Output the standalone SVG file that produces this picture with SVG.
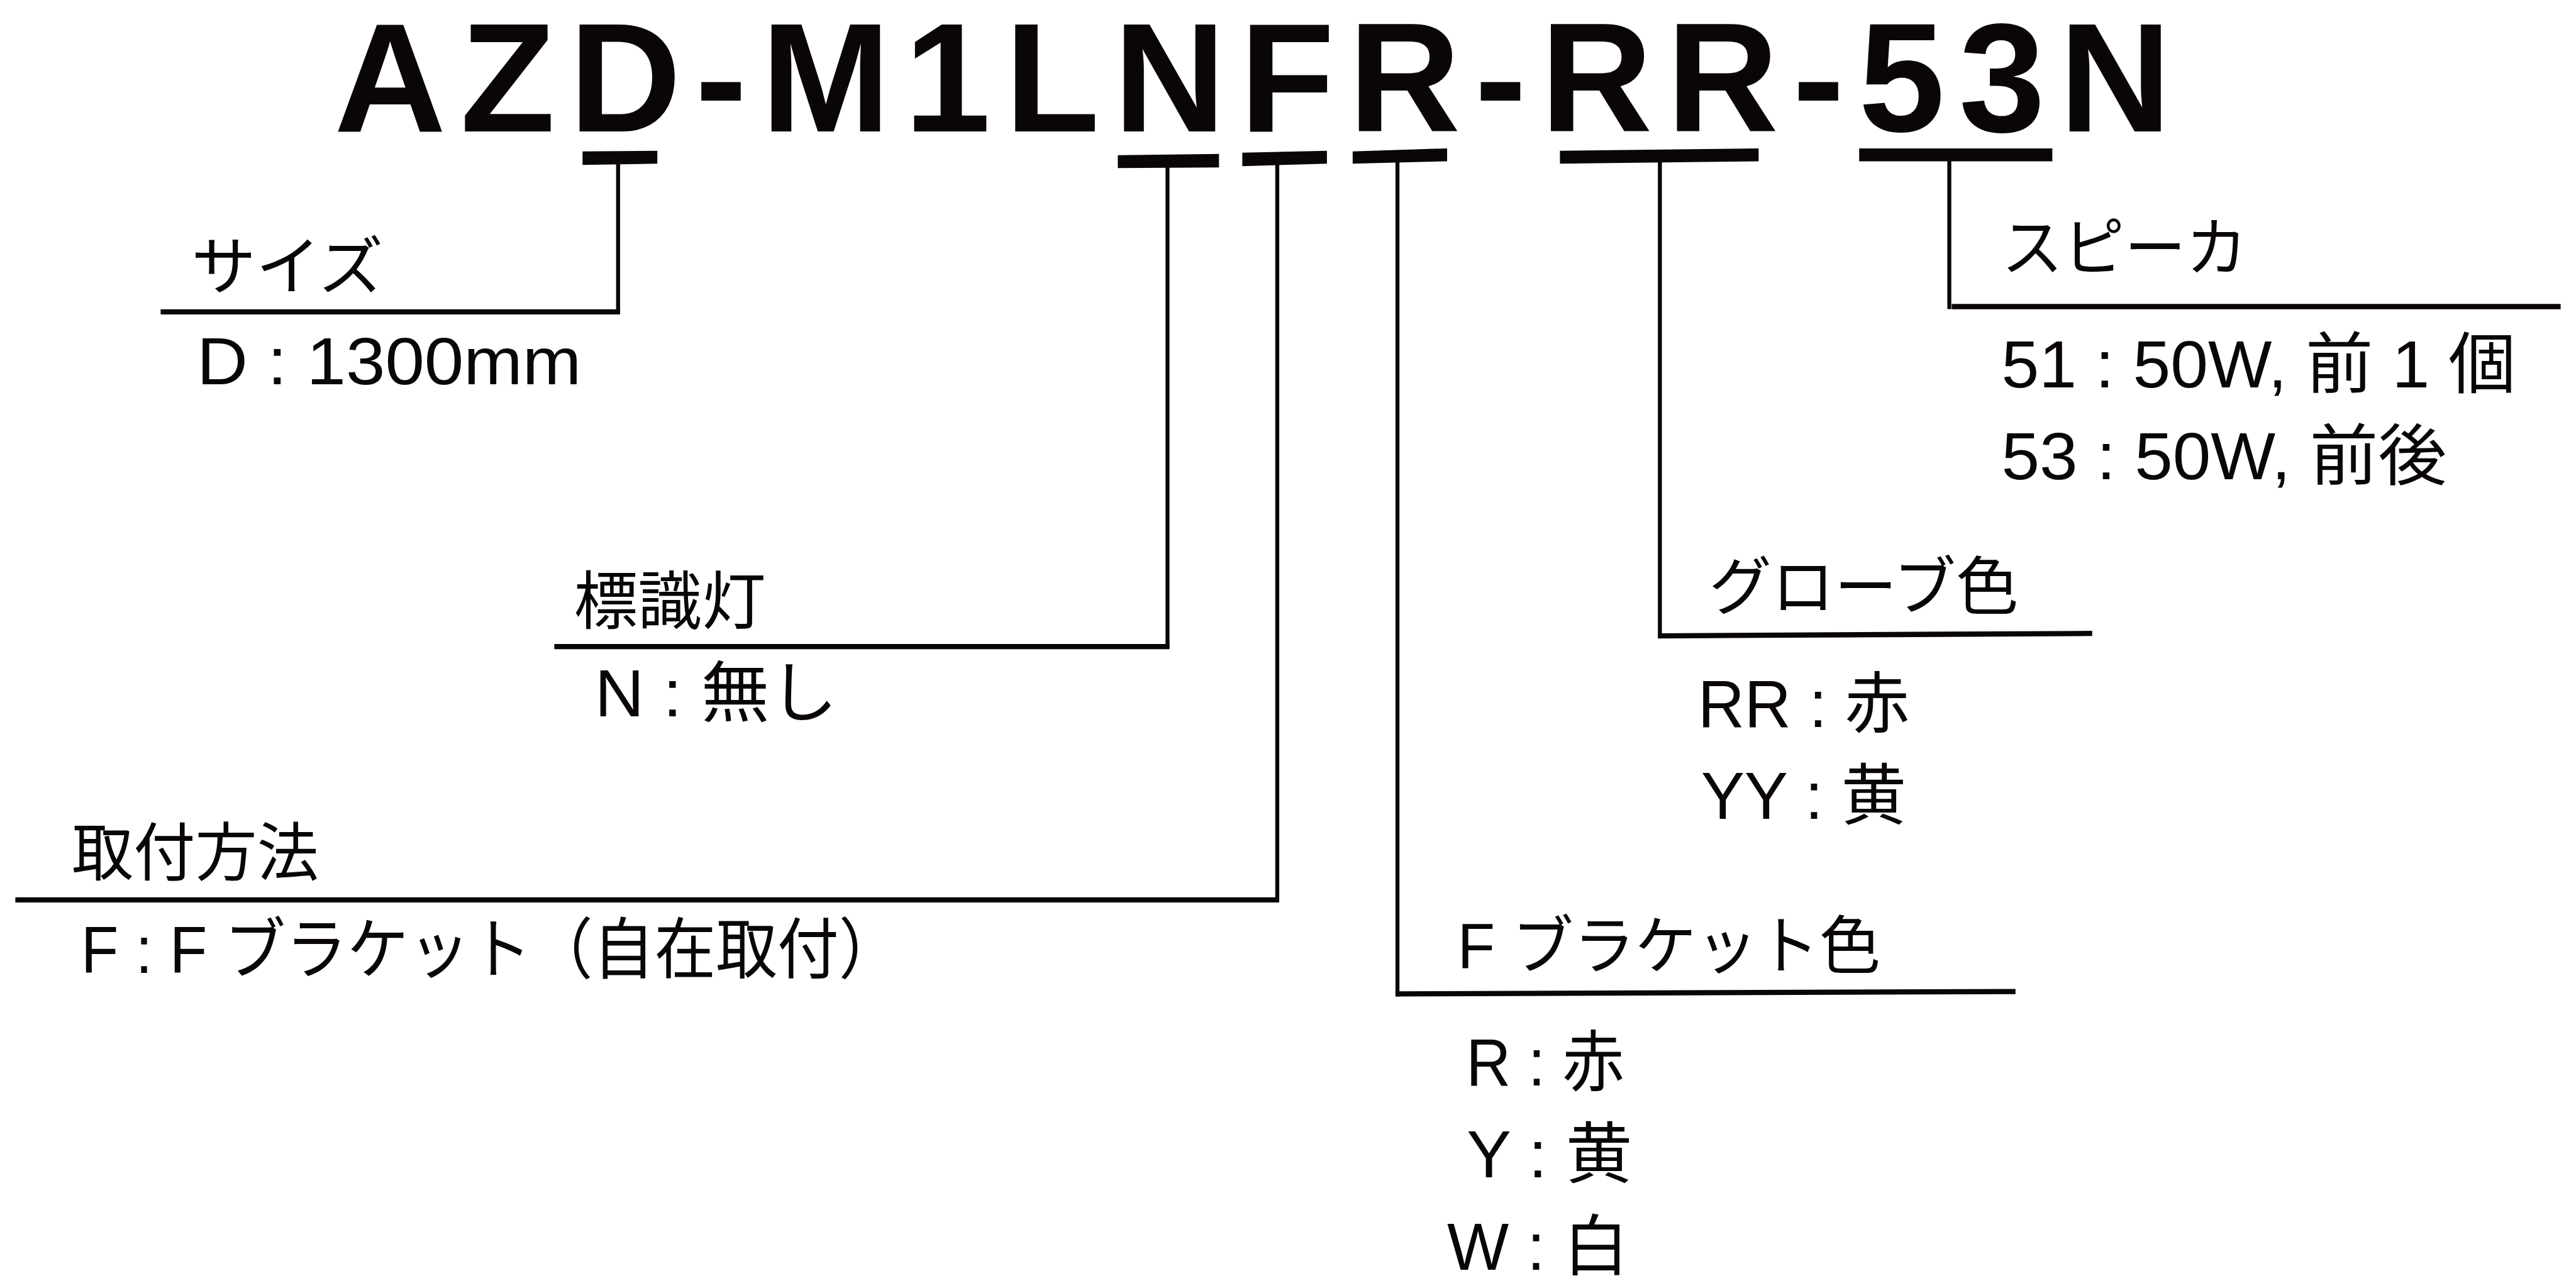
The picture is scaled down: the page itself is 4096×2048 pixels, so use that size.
<svg xmlns="http://www.w3.org/2000/svg" width="4096" height="2048" viewBox="0 0 4096 2048">
<style>
.title{font-family:"Liberation Sans",Arial,sans-serif;font-weight:bold;font-size:253px;letter-spacing:23px;fill:#0a0606}
.hdr{font-family:"Liberation Sans","Noto Sans CJK JP",sans-serif;font-size:104px;fill:#0a0606}
.body{font-family:"Liberation Sans","Noto Sans CJK JP",sans-serif;font-size:108px;fill:#0a0606}
.bar{fill:#0a0606}
.lv{stroke:#0a0606;stroke-width:6.5;fill:none}
.lh{stroke:#0a0606;stroke-width:8.5;fill:none}
</style>
<rect width="4096" height="2048" fill="#ffffff"/>
<g transform="scale(0.975)">
  <g id="node-title">
    <text class="title" x="545" y="214">AZD-M1LNFR-RR-53N</text>
  </g>
  <g id="connectors">
    <polygon class="bar" points="950,247 1072,246 1072,267 950,269"/>
    <polygon class="bar" points="1823,253 1988,251 1988,273 1823,274"/>
    <polygon class="bar" points="2026,249 2164,246 2164,267 2026,271"/>
    <polygon class="bar" points="2206,247 2360,242 2360,263 2206,267"/>
    <polygon class="bar" points="2544,246 2868,242 2868,263 2544,267"/>
    <polygon class="bar" points="3032,242 3347,242 3347,263 3032,263"/>
    <line class="lv" x1="1008" y1="266" x2="1008" y2="512"/>
    <line class="lh" x1="262" y1="508.5" x2="1011" y2="508.5"/>
    <line class="lv" x1="1904" y1="272" x2="1904" y2="1058"/>
    <line class="lh" x1="904" y1="1054.5" x2="1907" y2="1054.5"/>
    <line class="lv" x1="2083" y1="268" x2="2083" y2="1471"/>
    <line class="lh" x1="25" y1="1467.5" x2="2086" y2="1467.5"/>
    <line class="lv" x1="2279" y1="264" x2="2279" y2="1625"/>
    <line class="lh" x1="2276" y1="1621" x2="3287" y2="1617"/>
    <line class="lv" x1="2707" y1="263" x2="2707" y2="1041"/>
    <line class="lh" x1="2704" y1="1037" x2="3412" y2="1033"/>
    <line class="lv" x1="3179" y1="261" x2="3179" y2="504"/>
    <line class="lh" x1="3183" y1="500" x2="4176" y2="500"/>
  </g>
  <g id="node-size">
    <text class="hdr" x="312" y="472" textLength="313" lengthAdjust="spacingAndGlyphs">サイズ</text>
    <text class="body" x="321" y="627" textLength="627" lengthAdjust="spacingAndGlyphs">D : 1300mm</text>
  </g>
  <g id="node-marker-light">
    <text class="hdr" x="936" y="1017" textLength="313" lengthAdjust="spacingAndGlyphs">標識灯</text>
    <text class="body" x="970" y="1168" textLength="396" lengthAdjust="spacingAndGlyphs">N : 無し</text>
  </g>
  <g id="node-mounting">
    <text class="hdr" x="117" y="1428" textLength="403" lengthAdjust="spacingAndGlyphs">取付方法</text>
    <text class="body" x="132" y="1587" textLength="1336" lengthAdjust="spacingAndGlyphs">F : F ブラケット（自在取付）</text>
  </g>
  <g id="node-bracket-color">
    <text class="hdr" x="2377" y="1579" textLength="690" lengthAdjust="spacingAndGlyphs">F ブラケット色</text>
    <text class="body" x="2391" y="1770" textLength="258" lengthAdjust="spacingAndGlyphs">R : 赤</text>
    <text class="body" x="2392" y="1920" textLength="270" lengthAdjust="spacingAndGlyphs">Y : 黄</text>
    <text class="body" x="2360" y="2071" textLength="296" lengthAdjust="spacingAndGlyphs">W : 白</text>
  </g>
  <g id="node-globe-color">
    <text class="hdr" x="2787" y="994" textLength="505" lengthAdjust="spacingAndGlyphs">グローブ色</text>
    <text class="body" x="2769" y="1186" textLength="345" lengthAdjust="spacingAndGlyphs">RR : 赤</text>
    <text class="body" x="2774" y="1335" textLength="335" lengthAdjust="spacingAndGlyphs">YY : 黄</text>
  </g>
  <g id="node-speaker">
    <text class="hdr" x="3264" y="441" textLength="401" lengthAdjust="spacingAndGlyphs">スピーカ</text>
    <text class="body" x="3264" y="632" textLength="839" lengthAdjust="spacingAndGlyphs">51 : 50W, 前 1 個</text>
    <text class="body" x="3264" y="782" textLength="726" lengthAdjust="spacingAndGlyphs">53 : 50W, 前後</text>
  </g>
</g>
</svg>
